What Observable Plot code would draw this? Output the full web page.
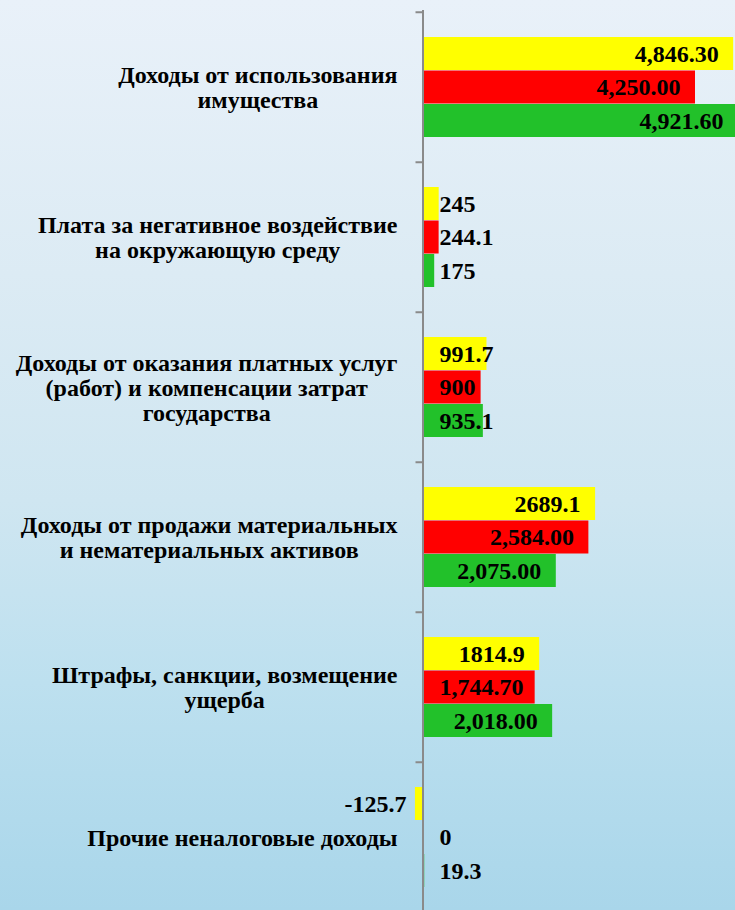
<!DOCTYPE html>
<html>
<head>
<meta charset="utf-8">
<script src="https://cdn.jsdelivr.net/npm/d3@7"></script>
<script src="https://cdn.jsdelivr.net/npm/@observablehq/plot@0.6"></script>
<style>
  html, body { margin: 0; padding: 0; width: 735px; height: 910px; overflow: hidden; }
  body {
    background: linear-gradient(to bottom, #e9f1f9 0%, #dcebf4 30%, #cfe6f1 55%, #bde0ef 75%, #a9d6ea 100%);
  }
  #chart svg { display: block; overflow: hidden; }
</style>
</head>
<body>
<div id="chart"></div>
<script>
// ---- data ----
const categories = [
  "Доходы от использования\nимущества",
  "Плата за негативное воздействие\nна окружающую среду",
  "Доходы от оказания платных услуг\n(работ) и компенсации затрат\nгосударства",
  "Доходы от продажи материальных\nи нематериальных активов",
  "Штрафы, санкции, возмещение\nущерба",
  "Прочие неналоговые доходы"
];
const seriesNames = ["Ряд 1", "Ряд 2", "Ряд 3"];
const seriesColors = ["#ffff00", "#ff0000", "#22c12a"];
const valuesYellow = [4846.3, 245, 991.7, 2689.1, 1814.9, -125.7];
const valuesRed    = [4250, 244.1, 900, 2584, 1744.7, 0];
const valuesGreen  = [4921.6, 175, 935.1, 2075, 2018, 19.3];
const labelsYellow = ["4,846.30", "245", "991.7", "2689.1", "1814.9", "-125.7"];
const labelsRed    = ["4,250.00", "244.1", "900", "2,584.00", "1,744.70", "0"];
const labelsGreen  = ["4,921.60", "175", "935.1", "2,075.00", "2,018.00", "19.3"];

const seriesValues = [valuesYellow, valuesRed, valuesGreen];
const seriesLabels = [labelsYellow, labelsRed, labelsGreen];

// ---- layout ----
const W = 735, H = 910;
const x0px = 423, xMaxVal = 5000, pxPerUnit = 0.064;
const yTop = 10, bandH = 150.5;
const barH = 33.5;
const inset = (bandH - barH) / 2;
const valueFont = "bold 24px 'Liberation Serif'";
const catFontSize = 24;
const catFont = `bold ${catFontSize}px 'Liberation Serif'`;

const ctx = document.createElement("canvas").getContext("2d");
function textW(t, f) { ctx.font = f; return ctx.measureText(t).width; }

const rows = [];
seriesValues.forEach((vals, s) => {
  vals.forEach((v, i) => {
    rows.push({cat: categories[i], series: seriesNames[s], s, value: v, label: seriesLabels[s][i]});
  });
});

// label placement mode
rows.forEach(r => {
  const w = textW(r.label, valueFont);
  const endPx = x0px + r.value * pxPerUnit;
  if (r.value < 0) r.mode = "neg";
  else if (endPx - 15 - w >= x0px + 16) r.mode = "end";
  else r.mode = "start";
});

const marks = [];
// bars
seriesNames.forEach((name, s) => {
  marks.push(Plot.barX(rows.filter(r => r.s === s), {
    y: "cat", x1: 0, x2: "value",
    fill: seriesColors[s],
    insetTop: inset, insetBottom: inset,
    dy: (s - 1) * barH
  }));
});
// value labels
seriesNames.forEach((name, s) => {
  const dy = (s - 1) * barH;
  const common = {y: "cat", text: "label", fontSize: 24, fontWeight: "bold", fill: "black",
    fontFamily: "'Liberation Serif', 'Times New Roman', serif", dy};
  marks.push(Plot.text(rows.filter(r => r.s === s && r.mode === "end"),
    {...common, x: "value", textAnchor: "end", dx: -15}));
  marks.push(Plot.text(rows.filter(r => r.s === s && r.mode === "start"),
    {...common, x: 0, textAnchor: "start", dx: 16}));
  marks.push(Plot.text(rows.filter(r => r.s === s && r.mode === "neg"),
    {...common, x: 0, textAnchor: "end", dx: -17}));
});
// axis line + boundary ticks
marks.push(Plot.ruleX([0], {stroke: "#8a8a8a", strokeWidth: 2, dx: -0.5}));
marks.push(Plot.ruleY(categories, {y: d => d, x1: -7 / pxPerUnit, x2: 0, dy: -bandH / 2, stroke: "#8a8a8a", strokeWidth: 2, dx: -0.5}));
// category labels (block right-aligned, lines centered)
categories.forEach(c => {
  const w = d3.max(c.split("\n"), l => textW(l, catFont));
  marks.push(Plot.text([c], {
    y: d => d, x: 0, text: d => d,
    textAnchor: "middle", dx: -(x0px - 397) - w / 2,
    fontSize: catFontSize, fontWeight: "bold", lineHeight: 25 / catFontSize,
    fontFamily: "'Liberation Serif', 'Times New Roman', serif", fill: "black"
  }));
});

const chart = Plot.plot({
  width: W, height: H,
  marginTop: yTop, marginBottom: 0, marginLeft: 0, marginRight: 0,
  style: {background: "transparent", overflow: "hidden"},
  x: {domain: [0, xMaxVal], range: [x0px, x0px + xMaxVal * pxPerUnit], axis: null},
  y: {domain: categories, range: [yTop, yTop + bandH * categories.length], padding: 0, axis: null},
  marks
});
document.getElementById("chart").appendChild(chart);
</script>
</body>
</html>
